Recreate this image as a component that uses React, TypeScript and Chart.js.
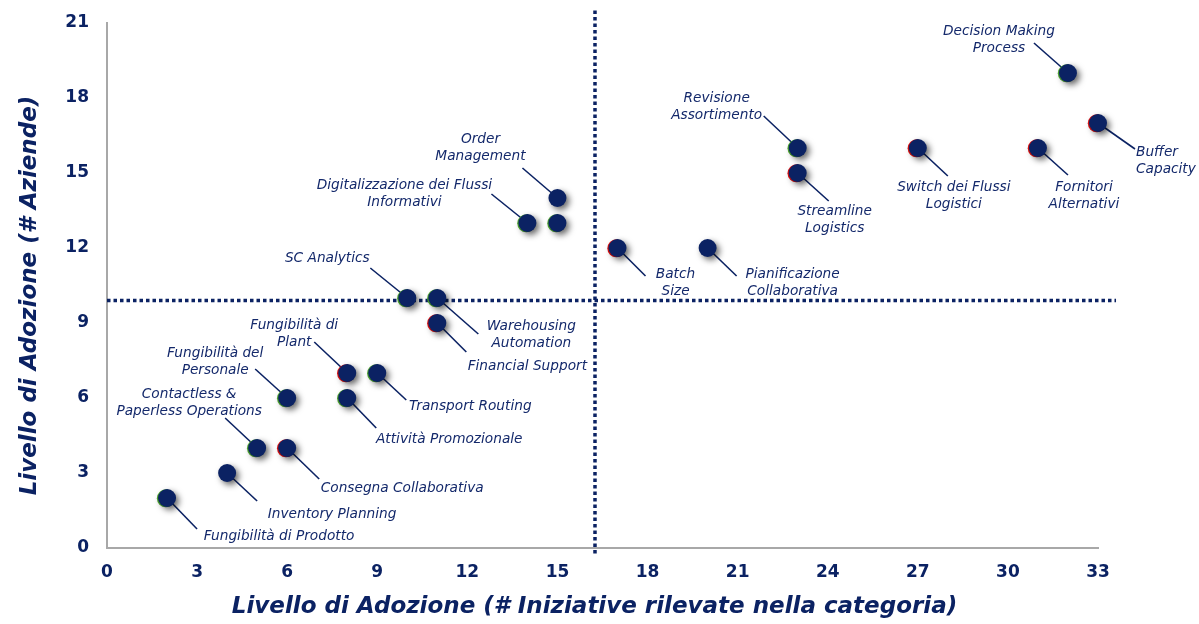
import React, { useEffect, useRef } from "react";
import { Chart, registerables } from "chart.js";

Chart.register(...registerables);

// ---- data ----
const X_VALUES = [2, 4, 5, 6, 6, 8, 8, 9, 10, 11, 11, 14, 15, 15, 17, 20, 23, 23, 27, 31, 32, 33];
const Y_VALUES = [2, 3, 4, 4, 6, 6, 7, 7, 10, 10, 9, 13, 13, 14, 12, 12, 16, 15, 16, 16, 19, 17];
const LABELS = [
  "Fungibilità di Prodotto",
  "Inventory Planning",
  "Contactless &\nPaperless Operations",
  "Consegna Collaborativa",
  "Fungibilità del\nPersonale",
  "Attività Promozionale",
  "Fungibilità di\nPlant",
  "Transport Routing",
  "SC Analytics",
  "Warehousing\nAutomation",
  "Financial Support",
  "Digitalizzazione dei Flussi\nInformativi",
  "",
  "Order\nManagement",
  "Batch\nSize",
  "Pianificazione\nCollaborativa",
  "Revisione\nAssortimento",
  "Streamline\nLogistics",
  "Switch dei Flussi\nLogistici",
  "Fornitori\nAlternativi",
  "Decision Making\nProcess",
  "Buffer\nCapacity",
];
// accent rim colour seen on each marker ("g" green, "r" red, "" none)
const ACCENTS = ["g", "", "g", "r", "g", "g", "r", "g", "g", "g", "r", "g", "g", "", "r", "", "g", "r", "r", "r", "g", "r"];
const X_TICK_STEP = 3;
const Y_TICK_STEP = 3;
const X_MAX = 33;
const Y_MAX = 21;
const X_THRESHOLD = 16.25;
const Y_THRESHOLD = 9.9;
const X_TITLE = "Livello di Adozione (# Iniziative rilevate nella categoria)";
const Y_TITLE = "Livello di Adozione (# Aziende)";

// ---- label layout (pixel offsets from each marker: leader end dx, dy, text dx, dy, align) ----
const LABEL_LAYOUT: [number, number, number, number, CanvasTextAlign][] = [
  [30, 31, 112, 38, "center"],
  [30, 28, 105, 41, "center"],
  [-32, -30, -68, -54, "center"],
  [32, 31, 115, 40, "center"],
  [-32, -29, -72, -45, "center"],
  [29, 30, 102, 41, "center"],
  [-33, -31, -53, -48, "center"],
  [29, 27, 93, 33, "center"],
  [-37, -30, -80, -40, "center"],
  [41, 36, 94, 28, "center"],
  [29, 29, 90, 43, "center"],
  [-36, -29, -123, -38, "center"],
  [0, 0, 0, 0, "center"],
  [-35, -30, -77, -59, "center"],
  [28, 28, 58, 26, "center"],
  [29, 28, 85, 26, "center"],
  [-34, -32, -81, -50, "center"],
  [31, 28, 37, 38, "center"],
  [30, 28, 36, 39, "center"],
  [30, 27, 46, 39, "center"],
  [-34, -30, -69, -42, "center"],
  [37, 26, 38, 29, "left"],
];

const NAVY = "#0b2263";
const TEXT_NAVY = "#14296b";
const AXIS_GRAY = "#a8a8a8";

const annotPlugin = {
  id: "annot",
  beforeDatasetsDraw(chart: any) {
    const { ctx, scales } = chart;
    const xs = scales.x;
    const ys = scales.y;
    ctx.save();
    // dotted threshold lines
    ctx.strokeStyle = NAVY;
    ctx.lineWidth = 3.5;
    ctx.setLineDash([3.5, 3]);
    ctx.beginPath();
    const vx = xs.getPixelForValue(X_THRESHOLD);
    ctx.moveTo(vx, ys.getPixelForValue(Y_MAX + 0.5));
    ctx.lineTo(vx, ys.getPixelForValue(-0.3));
    ctx.stroke();
    ctx.beginPath();
    const hy = ys.getPixelForValue(Y_THRESHOLD);
    ctx.moveTo(xs.getPixelForValue(0), hy);
    ctx.lineTo(xs.getPixelForValue(X_MAX + 0.6), hy);
    ctx.stroke();
    ctx.setLineDash([]);

    // leader lines and labels
    ctx.font = 'italic 13.7px "DejaVu Sans"';
    ctx.textBaseline = "middle";
    for (let i = 0; i < X_VALUES.length; i++) {
      if (!LABELS[i]) continue;
      const px = xs.getPixelForValue(X_VALUES[i]);
      const py = ys.getPixelForValue(Y_VALUES[i]);
      const [ldx, ldy, tdx, tdy, align] = LABEL_LAYOUT[i];
      ctx.strokeStyle = NAVY;
      ctx.lineWidth = 1.6;
      ctx.beginPath();
      ctx.moveTo(px, py);
      ctx.lineTo(px + ldx, py + ldy);
      ctx.stroke();
      ctx.fillStyle = TEXT_NAVY;
      ctx.textAlign = align;
      LABELS[i].split("\n").forEach((line, k) => {
        ctx.fillText(line, px + tdx, py + tdy + k * 17.5);
      });
    }

    // accent rims
    for (let i = 0; i < X_VALUES.length; i++) {
      const a = ACCENTS[i];
      if (!a) continue;
      const px = xs.getPixelForValue(X_VALUES[i]);
      const py = ys.getPixelForValue(Y_VALUES[i]);
      ctx.fillStyle = a === "g" ? "#4fa830" : "#e01010";
      ctx.beginPath();
      ctx.arc(px - 1.2, py + 0.3, 9, 0, Math.PI * 2);
      ctx.fill();
    }
    ctx.restore();

    ctx.save();
    ctx.shadowColor = "rgba(0,0,0,0.6)";
    ctx.shadowBlur = 6;
    ctx.shadowOffsetX = 3;
    ctx.shadowOffsetY = 3;
  },
  afterDatasetsDraw(chart: any) {
    chart.ctx.restore();
  },
  afterDraw(chart: any) {
    const { ctx, chartArea } = chart;
    ctx.save();
    ctx.fillStyle = NAVY;
    ctx.font = 'italic bold 23px "DejaVu Sans"';
    ctx.textAlign = "center";
    ctx.textBaseline = "middle";
    ctx.fillText(X_TITLE, (chartArea.left + chartArea.right) / 2 - 8, 607);
    ctx.translate(30, (chartArea.top + chartArea.bottom) / 2 + 10);
    ctx.rotate(-Math.PI / 2);
    ctx.fillText(Y_TITLE, 0, 0);
    ctx.restore();
  },
};

export default function App() {
  const ref = useRef<HTMLCanvasElement | null>(null);
  useEffect(() => {
    if (!ref.current) return;
    const points = X_VALUES.map((x, i) => ({ x, y: Y_VALUES[i] }));
    const tickFont = { family: '"DejaVu Sans"', size: 17, weight: "bold" as const };
    const chart = new Chart(ref.current, {
      type: "scatter",
      data: {
        datasets: [
          {
            data: points,
            backgroundColor: NAVY,
            borderWidth: 0,
            pointRadius: 9,
            pointHoverRadius: 9,
            clip: false as any,
          },
        ],
      },
      options: {
        responsive: false,
        animation: false,
        events: [],
        layout: { padding: { top: 23, right: 101, bottom: 0, left: 0 } },
        plugins: { legend: { display: false }, tooltip: { enabled: false } },
        scales: {
          x: {
            type: "linear",
            min: 0,
            max: X_MAX,
            grid: { display: false, drawTicks: false },
            border: { display: true, color: AXIS_GRAY, width: 2 },
            ticks: { stepSize: X_TICK_STEP, color: NAVY, font: tickFont, padding: 14 },
            afterFit: (s: any) => {
              s.height = 76;
              s.paddingLeft = 0;
              s.paddingRight = 0;
            },
          },
          y: {
            type: "linear",
            min: 0,
            max: Y_MAX,
            grid: { display: false, drawTicks: false },
            border: { display: true, color: AXIS_GRAY, width: 2 },
            ticks: { stepSize: Y_TICK_STEP, color: NAVY, font: tickFont, padding: 18 },
            afterFit: (s: any) => {
              s.width = 107;
              s.paddingTop = 0;
              s.paddingBottom = 0;
            },
          },
        },
      },
      plugins: [annotPlugin],
    });
    return () => chart.destroy();
  }, []);
  return (
    <div style={{ position: "absolute", left: 0, top: 0, width: 1199, height: 624, background: "#fff" }}>
      <canvas ref={ref} width={1199} height={624} />
    </div>
  );
}
